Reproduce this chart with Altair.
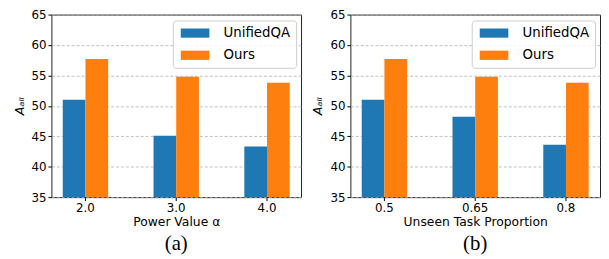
import altair as alt
import pandas as pd

methods = ["UnifiedQA", "Ours"]
colors = ["#1f77b4", "#ff7f0e"]

alpha_labels = ["2.0", "3.0", "4.0"]
alpha_unified = [51.0, 45.1, 43.3]
alpha_ours = [57.7, 54.8, 53.8]

prop_labels = ["0.5", "0.65", "0.8"]
prop_unified = [51.0, 48.2, 43.6]
prop_ours = [57.7, 54.8, 53.8]

y_ticks = [35, 40, 45, 50, 55, 60, 65]
y_min, y_max = 35, 65

FONT = "DejaVu Sans"


def panel(labels, unified, ours, xtitle, sub):
    df = pd.DataFrame({
        "cat": labels + labels,
        "method": [methods[0]] * len(labels) + [methods[1]] * len(labels),
        "val": unified + ours,
    })
    return alt.Chart(df).mark_bar().encode(
        x=alt.X("cat:N", sort=labels, title=xtitle,
                scale=alt.Scale(paddingInner=0.5, paddingOuter=0.125),
                axis=alt.Axis(labelAngle=0, labelFontSize=12, titleFontSize=12.5,
                              labelPadding=2, titlePadding=2.5, tickSize=3.5,
                              tickColor="#000", labelColor="#000", titleColor="#000",
                              domain=False, labelFont=FONT, titleFont=FONT,
                              titleFontWeight="normal")),
        xOffset=alt.XOffset("method:N", sort=methods,
                            scale=alt.Scale(paddingInner=0, paddingOuter=0)),
        y=alt.Y("val:Q", title="Aₐₗₗ",
                scale=alt.Scale(domain=[y_min, y_max], nice=False, zero=False),
                axis=alt.Axis(values=y_ticks, labelFontSize=12, titleFontSize=13,
                              titleFontStyle="italic", labelPadding=2, titlePadding=5,
                              tickSize=3.5, tickColor="#000", labelColor="#000",
                              titleColor="#000", domain=False, grid=True,
                              gridColor="#b0b0b0", gridDash=[3, 2], gridWidth=0.8,
                              labelFont=FONT, titleFont=FONT, titleFontWeight="normal")),
        y2=alt.datum(y_min),
        color=alt.Color("method:N", sort=methods,
                        scale=alt.Scale(domain=methods, range=colors),
                        legend=alt.Legend(title=None, orient="none", legendX=123, legendY=6,
                                          symbolType="M-1,-1H5.236V1H-1Z",
                                          symbolSize=86.5, symbolStrokeWidth=0,
                                          labelFontSize=13.5, labelFont=FONT,
                                          labelColor="#000", labelOffset=32,
                                          rowPadding=7.5, padding=6,
                                          fillColor="rgba(255,255,255,0.8)",
                                          strokeColor="#cccccc", cornerRadius=3)),
    ).properties(
        width=253, height=185,
        title=alt.TitleParams(sub, orient="bottom", font="Liberation Serif",
                              fontSize=21, fontWeight="normal", color="#000", offset=5),
    )


left = panel(alpha_labels, alpha_unified, alpha_ours, "Power Value α", "(a)")
right = panel(prop_labels, prop_unified, prop_ours, "Unseen Task Proportion", "(b)")

chart = alt.hconcat(left, right, spacing=9).resolve_scale(color="independent").properties(
    padding={"left": 4, "top": -2, "right": 0, "bottom": 0}
).configure_view(stroke="#222", strokeWidth=1)

chart.save("out.html", embed_options={"renderer": "svg", "actions": False})
